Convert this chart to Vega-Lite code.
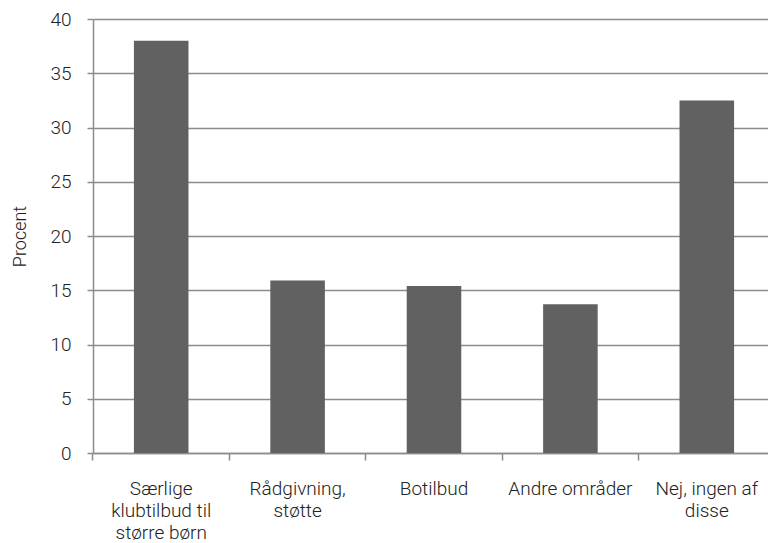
{
  "$schema": "https://vega.github.io/schema/vega-lite/v6.json",
  "width": 682,
  "height": 434,
  "autosize": "none",
  "padding": {"left": 93, "top": 19, "right": 0, "bottom": 90},
  "background": "white",
  "data": {
    "values": [
      {"kategori": "Særlige klubtilbud til større børn", "procent": 38.0},
      {"kategori": "Rådgivning, støtte", "procent": 15.9},
      {"kategori": "Botilbud", "procent": 15.4},
      {"kategori": "Andre områder", "procent": 13.7},
      {"kategori": "Nej, ingen af disse", "procent": 32.5}
    ]
  },
  "config": {
    "font": "Roboto",
    "view": {"stroke": null},
    "axis": {
      "labelFont": "Roboto",
      "labelFontWeight": 300,
      "labelFontSize": 19,
      "labelColor": "#222222",
      "titleFont": "Roboto",
      "titleFontWeight": 300,
      "titleFontSize": 18,
      "titleColor": "#222222",
      "domainColor": "#8c8c8c",
      "domainWidth": 1.5,
      "tickColor": "#8c8c8c",
      "tickWidth": 1.5,
      "gridColor": "#8c8c8c",
      "gridWidth": 1.5,
      "gridOpacity": 1
    }
  },
  "mark": {"type": "bar", "color": "#616161"},
  "encoding": {
    "x": {
      "field": "kategori",
      "type": "nominal",
      "sort": null,
      "scale": {"paddingInner": 0.6, "paddingOuter": 0.3},
      "axis": {
        "title": null,
        "labelAngle": 0,
        "ticks": true,
        "bandPosition": -0.75,
        "tickSize": 7,
        "labelPadding": 19,
        "labelLineHeight": 22,
        "labelBaseline": "top",
        "labelExpr": "datum.value == 'Særlige klubtilbud til større børn' ? ['Særlige', 'klubtilbud til', 'større børn'] : datum.value == 'Rådgivning, støtte' ? ['Rådgivning,', 'støtte'] : datum.value == 'Nej, ingen af disse' ? ['Nej, ingen af', 'disse'] : datum.value",
        "grid": false
      }
    },
    "y": {
      "field": "procent",
      "type": "quantitative",
      "scale": {"domain": [0, 40], "nice": false},
      "axis": {
        "title": "Procent",
        "values": [0, 5, 10, 15, 20, 25, 30, 35, 40],
        "tickSize": 6,
        "labelPadding": 16,
        "titlePadding": 20,
        "grid": true
      }
    }
  }
}
